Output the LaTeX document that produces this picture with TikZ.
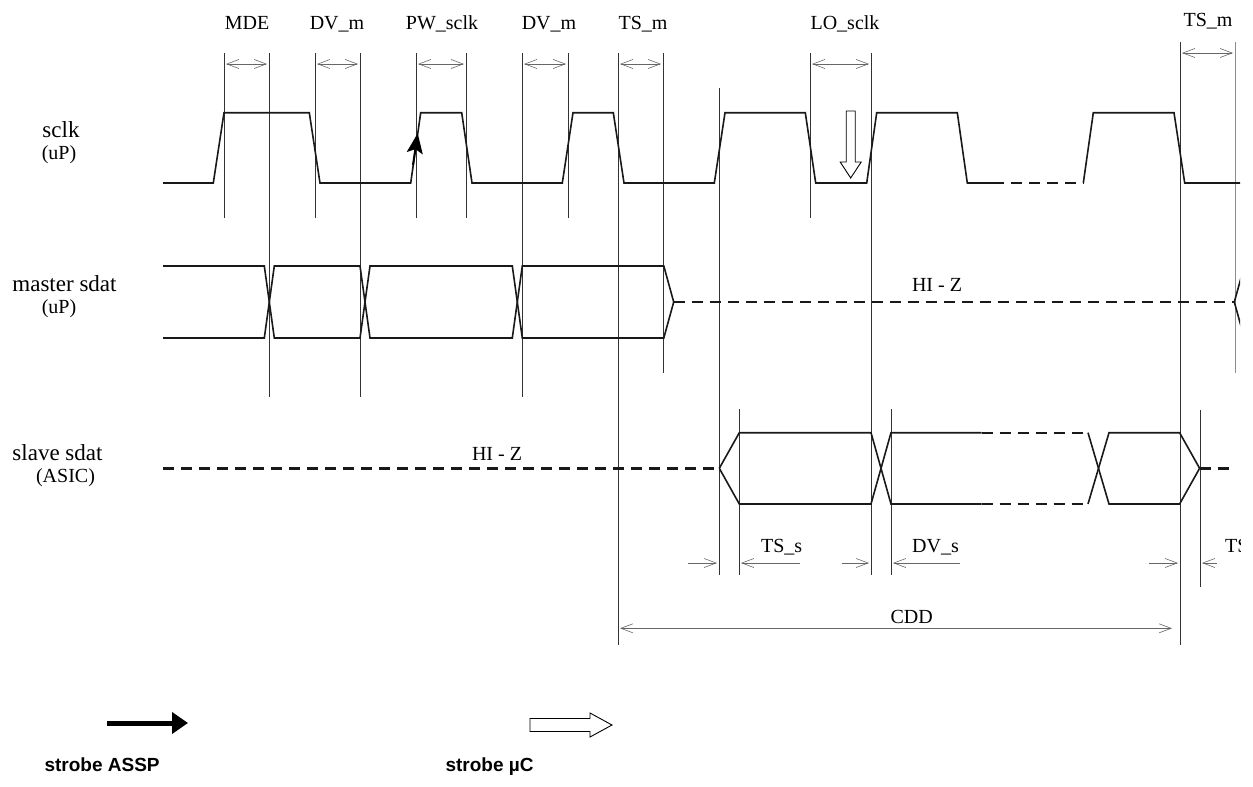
\documentclass[tikz,border=0pt]{standalone}
\usepackage{fontspec}
\setmainfont{Liberation Serif}
\newfontfamily\strobefont{Liberation Sans}
\usetikzlibrary{arrows.meta}

\tikzset{
  wave/.style={line width=1.6pt, black!90},
  hiz/.style={line width=2.6pt, black!90, dash pattern=on 11pt off 7pt},
  tick/.style={line width=0.7pt, black!80},
  dim/.style={line width=0.6pt, black!60},
  lbl/.style={font=\fontsize{20}{24}\selectfont},
  sig/.style={font=\fontsize{23}{27}\selectfont},
  strobe/.style={font=\strobefont\bfseries\fontsize{19}{23}\selectfont},
}

\begin{document}
\begin{tikzpicture}[x=1pt,y=-1pt,>={Straight Barb[length=12pt,width=9pt]}]
    \useasboundingbox (0,0) rectangle (1253,787);
    \begin{scope}
        \clip (0,0) rectangle (1240,787);

        % Lineas de tiempo
        \draw[tick] (224,53) -- (224,218);
        \draw[tick] (269,53) -- (269,397);
        \draw[tick] (315,53) -- (315,218);
        \draw[tick] (360,53) -- (360,397);
        \draw[tick] (416,53) -- (416,218);
        \draw[tick] (466,53) -- (466,218);
        \draw[tick] (522,53) -- (522,397);
        \draw[tick] (568,53) -- (568,218);
        \draw[tick] (618,53) -- (618,645);
        \draw[tick] (663,53) -- (663,373);
        \draw[tick] (719,88) -- (719,575);
        \draw[tick] (739,409) -- (739,575);
        \draw[tick] (810,53) -- (810,218);
        \draw[tick] (871,53) -- (871,575);
        \draw[tick] (891,409) -- (891,575);
        \draw[tick] (1180,42) -- (1180,645);
        \draw[tick] (1200,410) -- (1200,587);
        \draw[tick, black!45] (1235,42) -- (1235,373);

        % sclk
        \draw[wave] (163,183) -- (213.3,183) -- (224,112.7) -- (309.3,112.7) -- (320,183)
            -- (410.7,183) -- (420.7,112.7) -- (461.7,112.7) -- (472,183)
            -- (562.3,183) -- (573,112.7) -- (613.3,112.7) -- (624,183)
            -- (714.3,183) -- (725,112.7) -- (805.3,112.7) -- (815.7,183)
            -- (866.7,183) -- (876.7,112.7) -- (957.3,112.7) -- (967.3,183) -- (993,183);
        \draw[wave, dash pattern=on 11pt off 7pt] (993,183) -- (1083.3,183);
        \draw[wave] (1083.3,183) -- (1093.3,112.7) -- (1174,112.7) -- (1184.7,183) -- (1240,183);

        % master sdat
        \draw[wave] (163,266) -- (264.3,266) -- (274.3,338) -- (360,338) -- (370,266)
            -- (512.3,266) -- (522.3,338) -- (663.8,338) -- (673.7,302);
        \draw[wave] (163,338) -- (264.3,338) -- (274.3,266) -- (360,266) -- (370,338)
            -- (512.3,338) -- (522.3,266) -- (663.8,266) -- (673.7,302);
        \draw[hiz] (673.7,302) -- (1234.3,302);
        \draw[wave] (1244.3,266) -- (1234.3,302) -- (1244.3,338);

        % slave sdat
        \draw[hiz] (163,468.3) -- (719.3,468.3);
        \draw[wave] (719.3,468.3) -- (739.3,432.7) -- (871,432.7) -- (891,504) -- (981.7,504);
        \draw[wave] (719.3,468.3) -- (739.3,504) -- (871,504) -- (891,432.7) -- (981.7,432.7);
        \draw[wave, dash pattern=on 11pt off 7pt] (981.7,432.7) -- (1088,432.7);
        \draw[wave, dash pattern=on 11pt off 7pt] (981.7,504) -- (1088,504);
        \draw[wave] (1088,432.7) -- (1109,504) -- (1179.6,504) -- (1199.6,468.3);
        \draw[wave] (1088,504) -- (1109,432.7) -- (1179.6,432.7) -- (1199.6,468.3);
        \draw[hiz] (1199.6,468.3) -- (1231,468.3);

        % Cotas
        \draw[dim,<->] (226,64) -- (267,64);
        \draw[dim,<->] (317,64) -- (358,64);
        \draw[dim,<->] (418,64) -- (464,64);
        \draw[dim,<->] (524,64) -- (566,64);
        \draw[dim,<->] (620,64) -- (661,64);
        \draw[dim,<->] (812,64) -- (869,64);
        \draw[dim,<->] (1182,53) -- (1233,53);

        \draw[dim,->] (688,563) -- (717,563);
        \draw[dim,<-] (741,563) -- (800,563);
        \draw[dim,->] (842,563) -- (869,563);
        \draw[dim,<-] (893,563) -- (960,563);
        \draw[dim,->] (1149,563) -- (1178,563);
        \draw[dim,<-] (1202,563) -- (1217,563);
        \draw[dim,<->] (620,628.3) -- (1172,628.3);

        % Flechas
        \draw[line width=2pt, black, -{Stealth[length=20pt,width=16pt,inset=4pt]}] (413,165) -- (417.7,133.3);
        \draw[line width=0.9pt, fill=white] (846.2,111) -- (855.2,111) -- (855.2,162) -- (861.2,162)
            -- (850.7,178) -- (840.2,162) -- (846.2,162) -- cycle;
        \draw[line width=5pt, black, -{Triangle[length=16pt,width=21pt]}] (107,723) -- (188,723);
        \draw[line width=0.9pt, fill=white] (530,718.5) -- (590,718.5) -- (590,713) -- (612,725)
            -- (590,737) -- (590,731.5) -- (530,731.5) -- cycle;

        % Etiquetas
        \node[lbl,anchor=base] (mde) at (247,29) {MDE};
        \node[lbl,anchor=base] (dvm1) at (337,29) {DV\_m};
        \node[lbl,anchor=base] (pw) at (442,29) {PW\_sclk};
        \node[lbl,anchor=base] (dvm2) at (549,29) {DV\_m};
        \node[lbl,anchor=base] (tsm1) at (643,29) {TS\_m};
        \node[lbl,anchor=base] (lo) at (845,29) {LO\_sclk};
        \node[lbl,anchor=base] (tsm2) at (1208,26) {TS\_m};

        \node[sig,anchor=base] (sclk) at (61,137) {sclk};
        \node[lbl,anchor=base] (sclkup) at (59,159) {(uP)};
        \node[sig,anchor=base] (master) at (64.5,291.7) {master sdat};
        \node[lbl,anchor=base] (masterup) at (59,313) {(uP)};
        \node[sig,anchor=base] (slave) at (57.5,460) {slave sdat};
        \node[lbl,anchor=base] (slaveasic) at (65.5,482) {(ASIC)};

        \node[lbl,anchor=base] (hizm) at (937,291.7) {HI - Z};
        \node[lbl,anchor=base] (hizs) at (497,460) {HI - Z};
        \node[lbl,anchor=base] (tss) at (781.7,552) {TS\_s};
        \node[lbl,anchor=base] (dvs) at (935.5,552) {DV\_s};
        \node[lbl,anchor=base west,inner sep=0pt] (tss2) at (1225,552) {TS\_s};
        \node[lbl,anchor=base] (cdd) at (911.7,623.3) {CDD};

        \node[strobe,anchor=base west] (assp) at (41,771) {strobe ASSP};
        \node[strobe,anchor=base west] (uc) at (442,771) {strobe µC};
    \end{scope}
\end{tikzpicture}
\end{document}
